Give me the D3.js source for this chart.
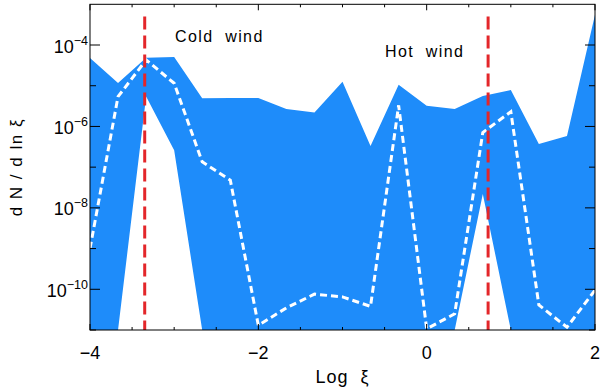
<!DOCTYPE html>
<html>
<head>
<meta charset="utf-8">
<script src="https://cdn.jsdelivr.net/npm/d3@7"></script>
<style>
  body { margin: 0; background: #fff; }
  svg { display: block; font-family: "Liberation Sans", Arial, sans-serif; }
  text { white-space: pre; }
</style>
</head>
<body>
<div id="chart"></div>
<script>
const width = 600;
const height = 389;
const margin = { top: 4.3, right: 5, bottom: 59, left: 90 };

// log xi grid (bins of 1/3 dex)
const logXi = [-4, -3.667, -3.333, -3, -2.667, -2.333, -2, -1.667, -1.333, -1,
  -0.667, -0.333, 0, 0.333, 0.667, 1, 1.333, 1.667, 2];

// upper / lower envelope of the band and the median (dashed white)
const upper = [4.8e-5, 1.17e-5, 4.9e-5, 5.1e-5, 4.9e-6, 5.0e-6, 5.0e-6, 2.7e-6, 2.2e-6, 1.26e-5,
  3.3e-7, 1.05e-5, 3.2e-6, 2.7e-6, 5.6e-6, 7.8e-6, 3.7e-7, 5.8e-7, 5.5e-4];
const lower = [1e-12, 1.0e-11, 5.4e-6, 2.6e-7, 1.0e-11, 1e-12, 1e-12, 1e-12, 1e-12, 1e-12,
  1e-12, 1e-12, 1e-12, 1.0e-11, 2.2e-8, 1.0e-11, 1e-12, 1e-12, 1e-12];
const median = [1.0e-9, 5.4e-6, 4.3e-5, 1.15e-5, 1.35e-7, 4.8e-8, 1.3e-11, 3.5e-11, 7.6e-11, 6.5e-11,
  3.8e-11, 3.3e-6, 1.07e-11, 2.5e-11, 7.1e-7, 2.3e-6, 4.1e-11, 1.17e-11, 9.5e-11];

// wind markers
const windX = [-3.35, 0.73];
const windLabels = ["Cold  wind", "Hot  wind"];

// axis ticks
const xMajor = [-4, -2, 0, 2];
const xMinor = [-3.5, -3, -2.5, -1.5, -1, -0.5, 0.5, 1, 1.5];
const yMajor = [1e-4, 1e-6, 1e-8, 1e-10];
const yMinor = [1e-5, 1e-7, 1e-9, 1e-11];
const yExp = ["−4", "−6", "−8", "−10"];

const svg = d3.select("#chart").append("svg")
  .attr("width", width)
  .attr("height", height);

const x = d3.scaleLinear().domain([-4, 2]).range([margin.left, width - margin.right]);
const y = d3.scaleLog().domain([1e-11, 1e-3]).range([height - margin.bottom, margin.top]);

svg.append("clipPath").attr("id", "plot")
  .append("rect")
  .attr("x", margin.left).attr("y", margin.top)
  .attr("width", x(2) - x(-4)).attr("height", y(1e-11) - y(1e-3));

const g = svg.append("g").attr("clip-path", "url(#plot)");

const rows = logXi.map((v, i) => ({ x: v, lo: lower[i], hi: upper[i], med: median[i] }));

// Blue band
g.append("path")
  .datum(rows)
  .attr("fill", "#1e8cfa")
  .attr("d", d3.area().x(d => x(d.x)).y0(d => y(d.lo)).y1(d => y(d.hi)));

// Median
g.append("path")
  .datum(rows)
  .attr("fill", "none")
  .attr("stroke", "#fff")
  .attr("stroke-width", 3)
  .attr("stroke-dasharray", "7,4")
  .attr("d", d3.line().x(d => x(d.x)).y(d => y(d.med)));

// Red dashed wind lines
windX.forEach(v => {
  g.append("line")
    .attr("x1", x(v)).attr("x2", x(v))
    .attr("y1", y(5e-4)).attr("y2", y(1e-11))
    .attr("stroke", "#e3262a")
    .attr("stroke-width", 3)
    .attr("stroke-dasharray", "13,6");
});

// Axes
const axes = svg.append("g").attr("stroke", "#000").attr("stroke-width", 1);
const y0 = y(1e-11), y1 = y(1e-3), x0 = x(-4), x1 = x(2);
axes.append("rect")
  .attr("x", x0).attr("y", y1).attr("width", x1 - x0).attr("height", y0 - y1)
  .attr("fill", "none");

const xTicks = xMajor.map(v => [v, 6]).concat(xMinor.map(v => [v, 3]));
xTicks.forEach(([v, len]) => {
  axes.append("line").attr("x1", x(v)).attr("x2", x(v)).attr("y1", y0).attr("y2", y0 - len);
  axes.append("line").attr("x1", x(v)).attr("x2", x(v)).attr("y1", y1).attr("y2", y1 + len);
});
const yTicks = yMajor.map(v => [v, 10]).concat(yMinor.map(v => [v, 6]));
yTicks.forEach(([v, len]) => {
  axes.append("line").attr("x1", x0).attr("x2", x0 + len).attr("y1", y(v)).attr("y2", y(v));
  axes.append("line").attr("x1", x1).attr("x2", x1 - len).attr("y1", y(v)).attr("y2", y(v));
});

// Tick labels
svg.selectAll(".xlab").data(xMajor).enter().append("text")
  .attr("x", d => x(d))
  .attr("y", 359)
  .attr("text-anchor", "middle")
  .attr("font-size", 18)
  .text(d => d < 0 ? "−" + Math.abs(d) : d);

yMajor.forEach((v, i) => {
  const t = svg.append("text")
    .attr("x", 88)
    .attr("y", y(v) + 7.5)
    .attr("text-anchor", "end")
    .attr("font-size", 18);
  t.append("tspan").text("10");
  t.append("tspan").attr("dy", -8).attr("font-size", 12.5).text(yExp[i]);
});

// Axis titles
svg.append("text")
  .attr("x", x(-1))
  .attr("y", 383)
  .attr("text-anchor", "middle")
  .attr("font-size", 18)
  .attr("letter-spacing", 1)
  .text("Log  ξ");

svg.append("text")
  .attr("transform", `translate(22,${(y0 + y1) / 2}) rotate(-90)`)
  .attr("text-anchor", "middle")
  .attr("font-size", 17)
  .attr("letter-spacing", 1.5)
  .text("d N / d ln ξ");

// Wind labels
svg.append("text").attr("x", 175).attr("y", 42)
  .attr("font-size", 16).attr("letter-spacing", 1.4)
  .text(windLabels[0]);
svg.append("text").attr("x", 385).attr("y", 56.5)
  .attr("font-size", 16).attr("letter-spacing", 1.4)
  .text(windLabels[1]);
</script>
</body>
</html>
